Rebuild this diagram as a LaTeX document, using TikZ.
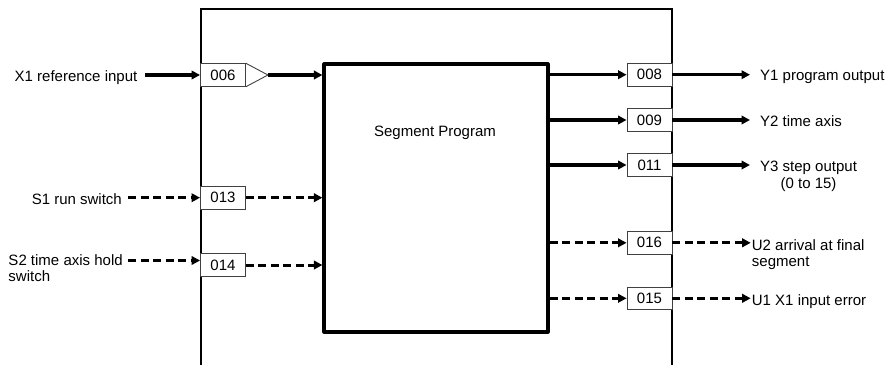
\documentclass[tikz,border=0pt]{standalone}
\usepackage{fontspec}
\setmainfont{Liberation Sans}
\usetikzlibrary{arrows.meta}
\begin{document}
\begin{tikzpicture}[x=1pt,y=-1pt,
  font=\fontsize{15}{16.5}\selectfont,
  frame/.style={line width=1.4pt},
  code/.style={draw=black!75, line width=0.9pt, minimum width=45pt, minimum height=22.5pt, inner sep=0pt, fill=white},
  thickarr/.style={line width=3.2pt, -{Triangle[length=8.5pt,width=8.5pt]}},
  dasharr/.style={line width=3pt, dash pattern=on 8pt off 4.5pt, -{Triangle[length=8.5pt,width=8.5pt]}},
  lbl/.style={inner sep=0pt}]
\useasboundingbox (0,0) rectangle (891,365);
% outer frame
\draw[frame] (201,365) -- (201,9) -- (672,9) -- (672,365);
% program block
\node[draw, line width=3.2pt, line join=round, minimum width=224pt, minimum height=268pt, inner sep=0pt] (prog) at (436,198) {};
\node[lbl, anchor=base] (ptitle) at (435,136) {Segment Program};
% code boxes
\node[code] (c006) at (223,75) {006};
\node[code] (c013) at (223,197.7) {013};
\node[code] (c014) at (223,265) {014};
\node[code] (c008) at (649.5,74.7) {008};
\node[code] (c009) at (649.5,120) {009};
\node[code] (c011) at (649.5,165) {011};
\node[code] (c016) at (649.5,242.8) {016};
\node[code] (c015) at (649.5,298.3) {015};
\coordinate (t006) at ([xshift=22pt]c006.east);
\draw[draw=black!75, line width=0.9pt, line join=miter] (c006.north east) -- (t006) -- (c006.south east);
% labels left
\node[lbl, anchor=base east] (x1) at (137.5,81.5) {X1 reference input};
\node[lbl, anchor=base east] (s1) at (122,204) {S1 run switch};
\node[lbl, anchor=base west, align=left] (s2) at (8.3,281.5) {S2 time axis hold\\switch};
% labels right
\node[lbl, anchor=base west] (y1) at (760,80.7) {Y1 program output};
\node[lbl, anchor=base west] (y2) at (760,126) {Y2 time axis};
\node[lbl, anchor=base west, align=center] (y3) at (760,188.2) {Y3 step output\\(0 to 15)};
\node[lbl, anchor=base west, align=left] (u2) at (751.7,266.5) {U2 arrival at final\\segment};
\node[lbl, anchor=base west] (u1) at (751.7,305) {U1 X1 input error};
% inputs
\draw[thickarr] ([xshift=7.5pt]c006.west -| x1.east) -- (c006.west);
\draw[thickarr] (t006) -- (t006 -| prog.west);
\draw[dasharr] ([xshift=6pt]c013.west -| s1.east) -- (c013.west);
\draw[dasharr] (c013.east) -- (c013.east -| prog.west);
\coordinate (s2a) at (128,260.5);
\draw[dasharr] (s2a) -- (s2a -| c014.west);
\draw[dasharr] (c014.east) -- (c014.east -| prog.west);
% outputs
\draw[thickarr] (c008.west -| prog.east) -- (c008.west);
\draw[thickarr] (c009.west -| prog.east) -- (c009.west);
\draw[thickarr] (c011.west -| prog.east) -- (c011.west);
\draw[dasharr] (c016.west -| prog.east) -- (c016.west);
\draw[dasharr] (c015.west -| prog.east) -- (c015.west);
\draw[thickarr] (c008.east) -- ([xshift=-10pt]c008.east -| y1.west);
\draw[thickarr] (c009.east) -- ([xshift=-10pt]c009.east -| y2.west);
\draw[thickarr] (c011.east) -- ([xshift=-10pt]c011.east -| y3.west);
\draw[dasharr] (c016.east) -- ([xshift=-1pt]c016.east -| u2.west);
\draw[dasharr] (c015.east) -- ([xshift=-1pt]c015.east -| u1.west);
\end{tikzpicture}
\end{document}
